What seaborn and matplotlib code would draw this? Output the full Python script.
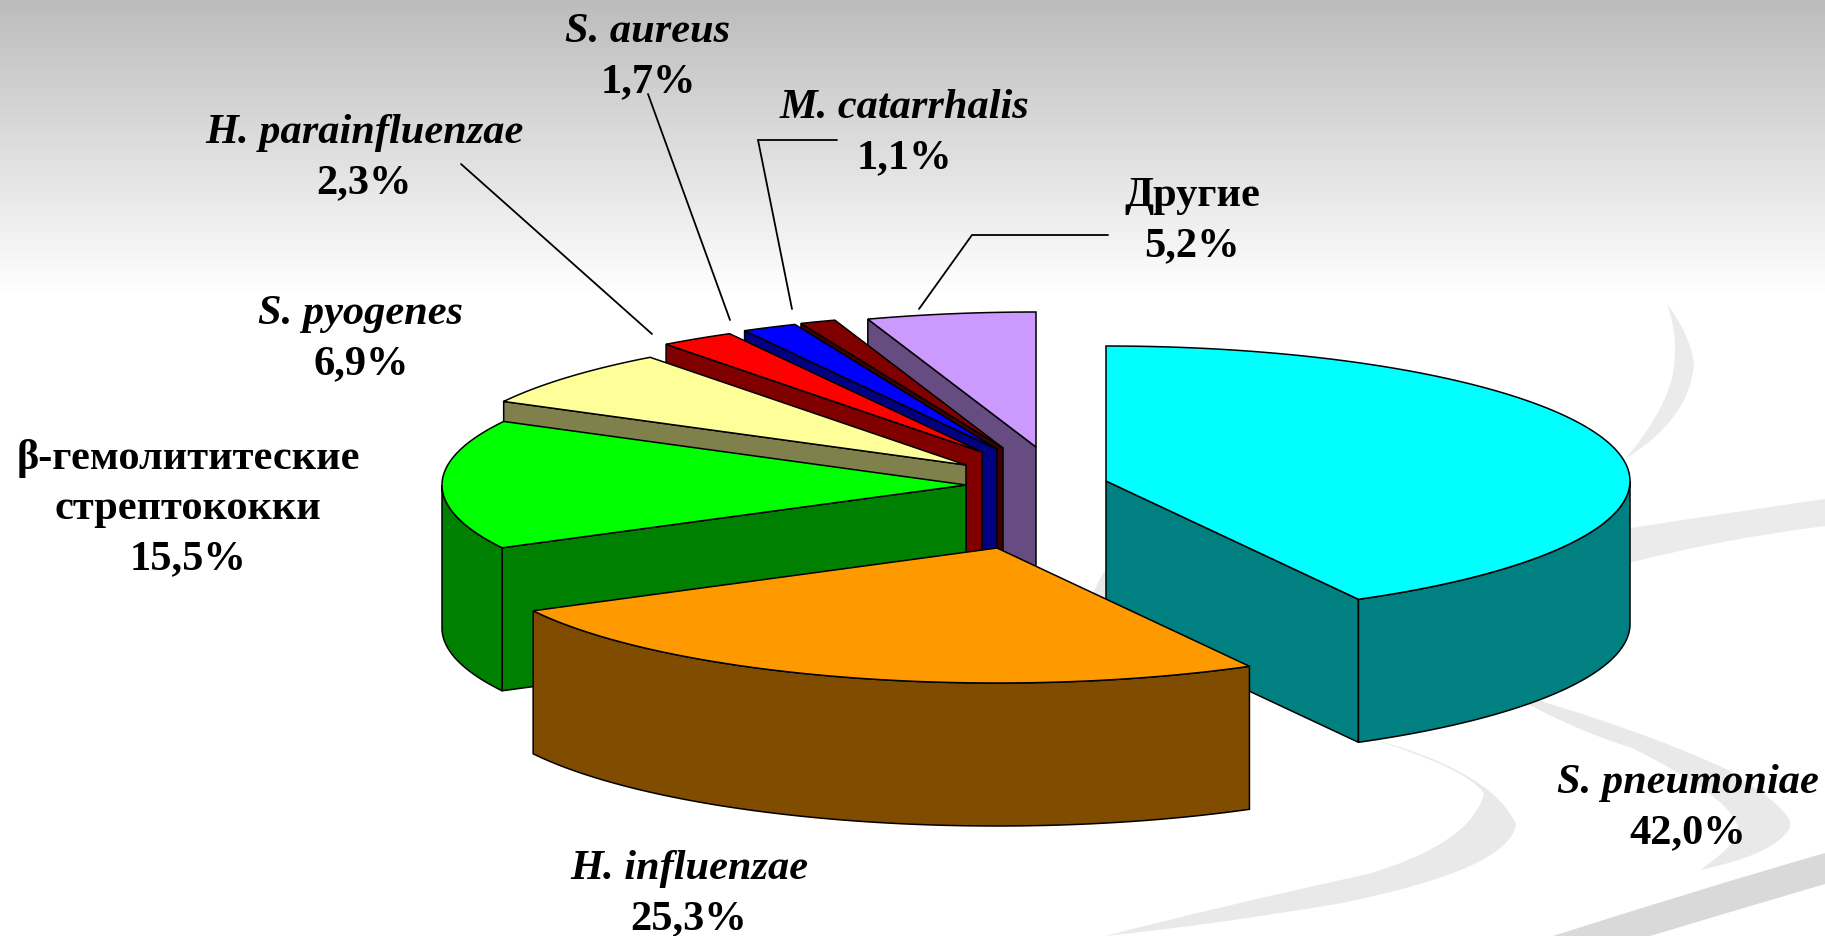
import matplotlib.pyplot as plt
import seaborn as sns
import numpy as np
from matplotlib.patches import Polygon, PathPatch
from matplotlib.path import Path

sns.set_theme(style='white')
plt.rcParams['font.family'] = ['Liberation Serif', 'DejaVu Serif']

# data
names = ['S. pneumoniae', 'H. influenzae', 'β-гемолититеские\nстрептококки', 'S. pyogenes',
         'H. parainfluenzae', 'S. aureus', 'M. catarrhalis', 'Другие']
values = [42.0, 25.3, 15.5, 6.9, 2.3, 1.7, 1.1, 5.2]
top_colors = ['#00FFFF', '#FF9900', '#00FF00', '#FFFF99', '#FF0000', '#0000FF', '#800000', '#CC99FF']
side_colors = ['#008080', '#804C00', '#008000', '#80804C', '#800000', '#000080', '#400000', '#664C80']
italic = [True, True, False, True, True, True, True, False]

# layout, in pixels of the picture
rx, ry, depth = 524, 135, 143
apex_x = [1106, 997, 966, 966, 982, 997, 1003, 1036]
apex_y = [482, 549, 486, 466, 453, 450, 449, 448]
label_x = [1688, 689, 188, 361, 364, 648, 904, 1192]
label_y = [783, 869, 459, 314, 133, 32, 108, 196]
line_gap = 50
leaders = [[(461, 165), (652, 335)],
           [(648, 95), (730, 321)],
           [(837, 141), (758, 141), (792, 310)],
           [(1108, 236), (972, 236), (919, 310)]]
draw_order = [7, 6, 5, 4, 3, 2, 0, 1]

fig = plt.figure(figsize=(18.25, 9.37), dpi=100)
ax = fig.add_axes([0, 0, 1, 1])
ax.set_xlim(0, 1825)
ax.set_ylim(937, 0)
ax.set_axis_off()

# grey fade behind the top of the slide
fade = np.clip(1 - np.arange(937) / 295, 0, 1)[:, None]
ax.imshow(fade, extent=(0, 1825, 937, 0), cmap=sns.blend_palette(['white', '#BCBCBC'], as_cmap=True),
          vmin=0, vmax=1, aspect='auto', zorder=0)


def swoosh(points, color):
    # first point is a moveto, the rest go in pairs as quadratic curves
    codes = [Path.MOVETO] + [Path.CURVE3] * (len(points) - 1)
    ax.add_patch(PathPatch(Path(points, codes), fc=color, ec='none', zorder=1))


swoosh([(1667, 305), (1690, 335), (1694, 365), (1690, 420), (1625, 460),
        (1660, 420), (1672, 380), (1680, 340), (1667, 305)], '#EBEBEB')
swoosh([(1625, 530), (1720, 515), (1825, 500), (1825, 527), (1825, 527),
        (1720, 540), (1625, 565), (1625, 530), (1625, 530)], '#EBEBEB')
swoosh([(1500, 690), (1640, 730), (1726, 770), (1800, 815), (1789, 830),
        (1775, 855), (1700, 871), (1745, 840), (1737, 825), (1725, 795),
        (1632, 749), (1570, 730), (1500, 690)], '#E9E9E9')
swoosh([(1365, 738), (1490, 770), (1516, 825), (1510, 870), (1342, 904),
        (1220, 925), (1105, 937), (1090, 937), (1105, 937), (1230, 905),
        (1368, 875), (1470, 845), (1484, 795), (1470, 770), (1365, 738)], '#E9E9E9')
swoosh([(1106, 570), (1085, 600), (1088, 640), (1092, 650), (1106, 665),
        (1106, 620), (1106, 570)], '#E9E9E9')
swoosh([(1825, 854), (1700, 890), (1553, 937), (1600, 937), (1650, 937),
        (1740, 910), (1825, 885), (1825, 870), (1825, 854)], '#D9D9D9')

lw = 1.1
starts = np.cumsum([0] + values[:-1]) / sum(values) * 360


def rim_point(i, theta):
    t = np.deg2rad(theta)
    return apex_x[i] + rx * np.sin(t), apex_y[i] - ry * np.cos(t)


for z, i in enumerate(draw_order):
    t0 = starts[i]
    t1 = t0 + values[i] / sum(values) * 360
    apex = (apex_x[i], apex_y[i])
    arc = np.linspace(t0, t1, 120)
    rim = np.array([rim_point(i, t) for t in arc])
    zz = 10 + z
    down = np.array([0, depth])

    # radial faces that look toward the viewer
    for theta, visible in [(t0, np.sin(np.deg2rad(t0)) < -1e-6), (t1, np.sin(np.deg2rad(t1)) > 1e-6)]:
        if visible:
            p = np.array(rim_point(i, theta))
            quad = [apex, p, p + down, np.array(apex) + down]
            ax.add_patch(Polygon(quad, fc=side_colors[i], ec='black', lw=lw, zorder=zz))

    # outer wall, only the part on the near side of the ellipse
    near = arc[(arc >= 90) & (arc <= 270)]
    if len(near) > 1:
        front = np.array([rim_point(i, t) for t in near])
        wall = np.vstack([front, (front + down)[::-1]])
        ax.add_patch(Polygon(wall, fc=side_colors[i], ec='black', lw=lw, zorder=zz))

    top = np.vstack([[apex], rim])
    ax.add_patch(Polygon(top, fc=top_colors[i], ec='black', lw=lw, zorder=zz))

for pts in leaders:
    ax.plot(*zip(*pts), color='black', lw=1.3, zorder=30, solid_joinstyle='miter')

for i, name in enumerate(names):
    y = label_y[i]
    for line in name.split('\n'):
        ax.text(label_x[i], y, line, ha='center', va='center', fontsize=30.5, fontweight='bold',
                fontstyle='italic' if italic[i] else 'normal', color='black', zorder=40)
        y += line_gap
    ax.text(label_x[i], y, f'{values[i]:.1f}%'.replace('.', ','), ha='center', va='center',
            fontsize=30.5, fontweight='bold', color='black', zorder=40)

fig.savefig('out.png', dpi=100)
